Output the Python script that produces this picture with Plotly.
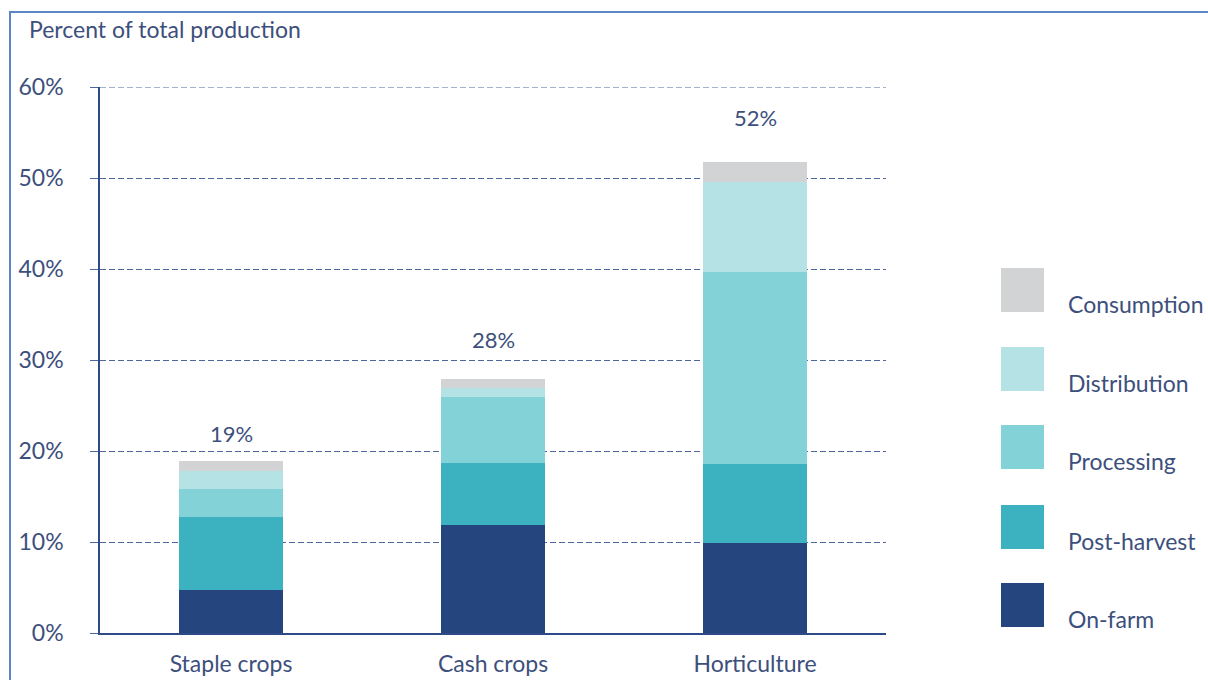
import plotly.graph_objects as go

categories = ["Staple crops", "Cash crops", "Horticulture"]
stages = ["On-farm", "Post-harvest", "Processing", "Distribution", "Consumption"]
on_farm = [4.7, 11.9, 9.9]
post_harvest = [8.0, 6.8, 8.7]
processing = [3.1, 7.2, 21.1]
distribution = [2.0, 1.0, 9.9]
consumption = [1.1, 1.0, 2.2]
total_labels = ["19%", "28%", "52%"]
label_shift = [28, 40, 44]
tick_vals = [0, 10, 20, 30, 40, 50, 60]
tick_text = ["0%", "10%", "20%", "30%", "40%", "50%", "60%"]

series = [on_farm, post_harvest, processing, distribution, consumption]
colors = ["#25457F", "#3CB1C0", "#83D2D8", "#B5E2E5", "#D2D3D5"]
text_color = "#3D4F7C"
grid_color = "#4D679C"
font_family = "Lato, 'Open Sans', sans-serif"
FS = 23

fig = go.Figure()
for name, vals, col in zip(stages, series, colors):
    fig.add_trace(go.Bar(x=categories, y=vals, name=name, marker_color=col,
                         marker_line_width=0, showlegend=False))

totals = [sum(v) for v in zip(*series)]
for cat, tot, lab, sh in zip(categories, totals, total_labels, label_shift):
    fig.add_annotation(x=cat, y=tot, text=lab, showarrow=False, yshift=sh,
                       font=dict(size=22, color=text_color, family=font_family))

H, T, B = 680, 87, 47
ph = H - T - B
def py(pix):
    return (H - B - pix) / ph
W, L, R = 1208, 100, 322
pw = W - L - R
def px(pix):
    return (pix - L) / pw

# top gridline (at the range edge)
fig.add_shape(type="line", xref="paper", yref="y", x0=0, x1=1, y0=tick_vals[-1], y1=tick_vals[-1],
              line=dict(color=grid_color, width=1, dash="6px,3px"), layer="below")

# custom legend (large squares)
legend_tops = [268, 347, 425, 505, 583]
for name, col, top in zip(stages[::-1], colors[::-1], legend_tops):
    fig.add_shape(type="rect", xref="paper", yref="paper",
                  x0=px(1001), x1=px(1044), y0=py(top + 44), y1=py(top),
                  fillcolor=col, line_width=0)
    fig.add_annotation(xref="paper", yref="paper", x=px(1066), y=py(top + 36),
                       text=name, showarrow=False, xanchor="left", yanchor="middle",
                       font=dict(size=FS, color=text_color, family=font_family))

# outer frame
fig.add_shape(type="rect", xref="paper", yref="paper",
              x0=px(10), x1=px(1215), y0=py(690), y1=py(12),
              line=dict(color="#5B86C5", width=2), fillcolor="rgba(0,0,0,0)", layer="below")

fig.add_annotation(xref="paper", yref="paper", x=px(27), y=py(29), text="Percent of total production",
                   showarrow=False, xanchor="left", yanchor="middle",
                   font=dict(size=FS, color=text_color, family=font_family))

fig.update_layout(
    barmode="stack", bargap=0.6,
    width=W, height=H,
    margin=dict(l=L, r=R, t=T, b=B, autoexpand=False),
    paper_bgcolor="white", plot_bgcolor="white",
    font=dict(family=font_family, color=text_color, size=FS),
    xaxis=dict(showline=True, linecolor="#2F4A88", linewidth=1.5, ticks="",
               ticklabelstandoff=10, automargin=False,
               tickfont=dict(size=FS, color=text_color)),
    yaxis=dict(range=[0, 60], tickvals=tick_vals, ticktext=tick_text,
               showgrid=True, gridcolor=grid_color, griddash="6px,3px", gridwidth=1,
               showline=True, linecolor="#2F4A88", linewidth=1.5,
               ticks="outside", ticklen=8, tickcolor=grid_color,
               ticklabelstandoff=22, zeroline=False, automargin=False,
               tickfont=dict(size=FS, color=text_color)),
)

fig.write_html("out.html", config={"displayModeBar": False},
               post_script="document.body.style.margin='0';")
